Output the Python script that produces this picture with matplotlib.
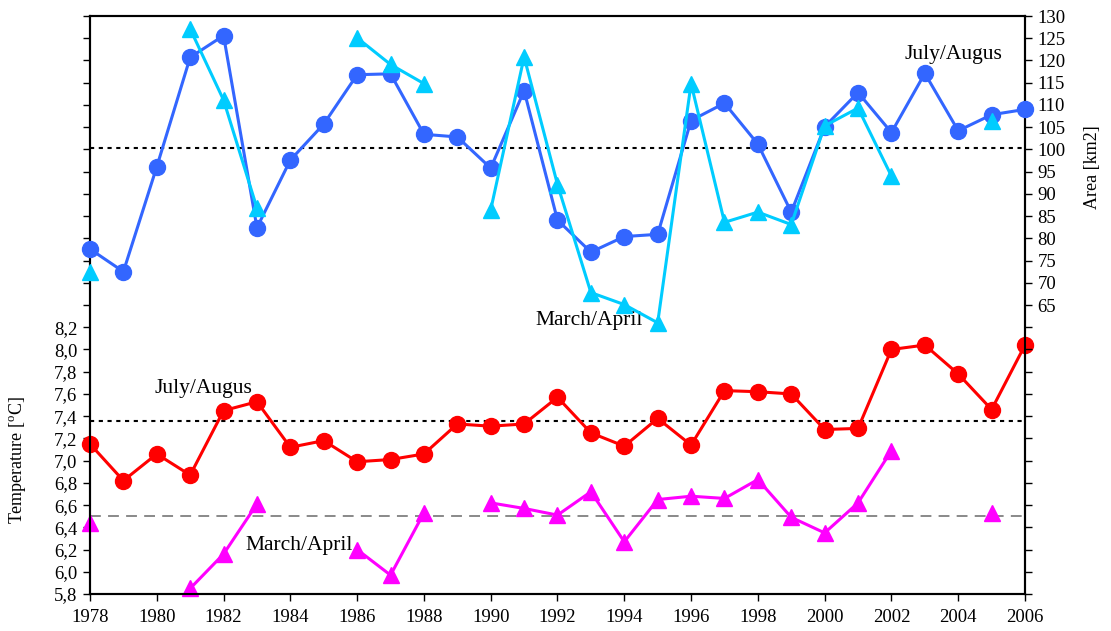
import matplotlib.pyplot as plt
import numpy as np
from matplotlib.ticker import MultipleLocator, FuncFormatter

plt.rcParams['font.family'] = ['Liberation Serif', 'DejaVu Serif']
plt.rcParams['mathtext.fontset'] = 'custom'
plt.rcParams['mathtext.rm'] = 'Liberation Serif'

nan = np.nan
years = np.arange(1978, 2007)

# temperature, July/August (red) and March/April (magenta)
temp_jul_aug = [7.15, 6.82, 7.06, 6.87, 7.45, 7.53, 7.12, 7.18, 6.99, 7.01,
                7.06, 7.33, 7.31, 7.33, 7.57, 7.25, 7.13, 7.38, 7.14, 7.63,
                7.62, 7.60, 7.28, 7.29, 8.00, 8.04, 7.78, 7.46, 8.04]
temp_mar_apr = [6.44, nan, nan, 5.85, 6.16, 6.61, nan, nan, 6.20, 5.97,
                6.53, nan, 6.62, 6.57, 6.51, 6.72, 6.27, 6.65, 6.68, 6.66,
                6.83, 6.49, 6.35, 6.62, 7.09, nan, nan, 6.53, nan]
temp_jul_aug_mean = 7.36
temp_mar_apr_mean = 6.50

# ice area [km2], July/August (blue) and March/April (cyan)
area_jul_aug = [77.6, 72.5, 96.1, 120.7, 125.6, 82.4, 97.6, 105.7, 116.8, 117.0,
                103.4, 102.8, 95.8, 113.2, 84.1, 76.9, 80.4, 80.9, 106.5, 110.4,
                101.2, 85.9, 105.1, 112.8, 103.8, 117.1, 104.2, 107.8, 109.0]
area_mar_apr = [72.5, nan, nan, 127.1, 111.1, 86.8, nan, nan, 125.1, 119.1,
                114.8, nan, 86.4, 120.8, 92.1, 67.8, 65.1, 61.0, 114.8, 83.6,
                85.9, 83.1, 105.3, 109.3, 94.0, nan, nan, 106.3, nan]
area_jul_aug_mean = 100.4

fig = plt.figure(figsize=(11.11, 6.31), dpi=100)
ax = fig.add_axes([0.081, 0.0586, 0.8416, 0.916])
ax2 = ax.twinx()

# reference lines
ax.axhline(temp_jul_aug_mean, color='black', lw=1.5, dashes=(2, 2.2), zorder=1)
ax.axhline(temp_mar_apr_mean, color='#808080', lw=1.3, dashes=(6, 4), zorder=1)
ax2.axhline(area_jul_aug_mean, color='black', lw=1.5, dashes=(2, 2.2), zorder=1)

ax.plot(years, temp_jul_aug, color='#FF0000', lw=2.2, marker='o', ms=11.5,
        clip_on=False, zorder=3)
ax.plot(years, temp_mar_apr, color='#FF00FF', lw=2.2, marker='^', ms=11.5,
        clip_on=False, zorder=3)
ax2.plot(years, area_jul_aug, color='#3366FF', lw=2.2, marker='o', ms=11.5,
         clip_on=False, zorder=3)
ax2.plot(years, area_mar_apr, color='#00CCFF', lw=2.2, marker='^', ms=11.5,
         clip_on=False, zorder=4)

ax.set_xlim(1978, 2006)
ax.set_ylim(5.8, 11.0)
ax2.set_ylim(0, 130)

ax.xaxis.set_major_locator(MultipleLocator(2))
ax.yaxis.set_major_locator(MultipleLocator(0.2))
ax2.yaxis.set_major_locator(MultipleLocator(5))

ax.yaxis.set_major_formatter(FuncFormatter(
    lambda v, p: ('%.1f' % v).replace('.', ',') if v <= 8.21 else ''))
ax2.yaxis.set_major_formatter(FuncFormatter(
    lambda v, p: '%d' % v if v >= 64.9 else ''))

for a in (ax, ax2):
    for s in a.spines.values():
        s.set_linewidth(1.5)
    a.tick_params(direction='out', length=5, width=1, labelsize=13.5,
                  colors='black', pad=4)
ax.tick_params(axis='x', pad=6)

ax.text(-0.077, 0.232, r'Temperature [$^\mathrm{o}$C]', rotation=90,
        transform=ax.transAxes, ha='center', va='center', fontsize=13)
ax2.text(1.0717, 0.739, 'Area [km2]', rotation=90,
         transform=ax.transAxes, ha='center', va='center', fontsize=13)

ax2.text(2003.85, 121.3, 'July/Augus', ha='center', va='center', fontsize=15.5)
ax2.text(1992.94, 61.6, 'March/April', ha='center', va='center', fontsize=15.5)
ax.text(1981.4, 7.645, 'July/Augus', ha='center', va='center', fontsize=15.5)
ax.text(1984.26, 6.24, 'March/April', ha='center', va='center', fontsize=15.5)

fig.savefig('out.png', dpi=100)
